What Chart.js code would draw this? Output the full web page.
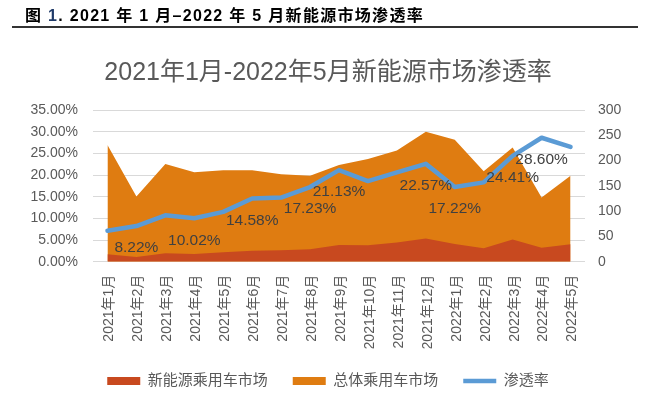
<!DOCTYPE html>
<html>
<head>
<meta charset="utf-8">
<script src="https://cdn.jsdelivr.net/npm/chart.js@4"></script>
<style>
  html, body { margin: 0; padding: 0; background: #fff; }
  #wrap { position: relative; width: 670px; height: 414px; overflow: hidden; }
  #hdr { position: absolute; left: 25px; top: 2px; font: bold 16px "Liberation Sans", "Noto Sans CJK SC", sans-serif; letter-spacing: 1.3px; color: #000; white-space: nowrap; }
  #hdr .n { color: #1F3A68; }
  #rule { position: absolute; left: 12px; top: 26px; width: 626px; height: 2px; background: #333; }
  canvas { position: absolute; left: 0; top: 0; }
</style>
</head>
<body>
<div id="wrap">
  <canvas id="c" width="670" height="414"></canvas>
  <div id="hdr">图 <span class="n">1</span>. 2021 年 1 月–2022 年 5 月新能源市场渗透率</div>
  <div id="rule"></div>
</div>
<script>
const categories = ['2021年1月','2021年2月','2021年3月','2021年4月','2021年5月','2021年6月','2021年7月','2021年8月','2021年9月','2021年10月','2021年11月','2021年12月','2022年1月','2022年2月','2022年3月','2022年4月','2022年5月'];
const nevMarket = [14.6, 9.3, 16.6, 15.2, 18.6, 21.8, 22.5, 24.5, 33, 32.4, 38, 46, 35, 26.5, 44, 27.7, 34.4];
const totalMarket = [231, 129, 193, 177, 181, 181, 173, 170, 191, 203, 220, 257, 241, 179, 226, 127, 170];
const penetration = [7.15, 8.22, 10.7, 10.02, 11.5, 14.58, 14.8, 17.23, 21.13, 18.6, 20.6, 22.57, 17.22, 18.3, 24.41, 28.60, 26.5];
const labeledIdx = [1, 3, 5, 7, 8, 11, 12, 14, 15];
const leftTicks = [0, 5, 10, 15, 20, 25, 30, 35];
const rightTicks = [0, 50, 100, 150, 200, 250, 300];

const FONT = '"Liberation Sans", "Noto Sans CJK SC", sans-serif';
const GRAY = '#595959';

const dataLabels = {
  id: 'dataLabels',
  afterDatasetsDraw(chart) {
    const meta = chart.getDatasetMeta(2);
    const ctx = chart.ctx;
    ctx.save();
    ctx.font = '15.5px ' + FONT;
    ctx.fillStyle = '#404040';
    ctx.textAlign = 'center';
    ctx.textBaseline = 'middle';
    labeledIdx.forEach(i => {
      const p = meta.data[i];
      ctx.fillText(penetration[i].toFixed(2) + '%', p.x, p.y + 22);
    });
    ctx.restore();
  }
};

new Chart(document.getElementById('c'), {
  type: 'line',
  data: {
    labels: categories,
    datasets: [
      { label: '新能源乘用车市场', data: nevMarket, yAxisID: 'y1', fill: 'origin',
        backgroundColor: '#C8491F', borderColor: '#C8491F', borderWidth: 0,
        pointRadius: 0, pointStyle: 'rect', tension: 0, order: 1 },
      { label: '总体乘用车市场', data: totalMarket, yAxisID: 'y1', fill: 'origin',
        backgroundColor: '#DF7C11', borderColor: '#DF7C11', borderWidth: 0,
        pointRadius: 0, pointStyle: 'rect', tension: 0, order: 2 },
      { label: '渗透率', data: penetration, yAxisID: 'y', fill: false,
        borderColor: '#5B9BD5', backgroundColor: '#5B9BD5', borderWidth: 4.5,
        borderCapStyle: 'round', borderJoinStyle: 'round',
        pointRadius: 0, pointStyle: 'line', tension: 0, order: 0 }
    ]
  },
  options: {
    responsive: false,
    animation: false,
    layout: { padding: { left: 0, right: 14, top: 0, bottom: 15.5 } },
    scales: {
      x: {
        offset: true,
        grid: { display: false, drawTicks: false },
        border: { display: false },
        ticks: { minRotation: 90, maxRotation: 90, autoSkip: false, padding: 13, labelOffset: 2,
                 color: GRAY, font: { size: 14, family: FONT } },
        afterFit(s) { s.height = 86.8; }
      },
      y: {
        position: 'left', min: 0, max: 35,
        afterBuildTicks(s) { s.ticks = leftTicks.map(v => ({ value: v })); },
        grid: { color: '#D9D9D9', lineWidth: 1, drawTicks: false },
        border: { display: false },
        ticks: { padding: 15, color: GRAY, font: { size: 14, family: FONT },
                 callback: v => v.toFixed(2) + '%' },
        afterFit(s) { s.width = 93; }
      },
      y1: {
        position: 'right', min: 0, max: 300,
        afterBuildTicks(s) { s.ticks = rightTicks.map(v => ({ value: v })); },
        grid: { display: false, drawTicks: false },
        border: { display: false },
        ticks: { padding: 13, color: GRAY, font: { size: 14, family: FONT } },
        afterFit(s) { s.width = 71; }
      }
    },
    plugins: {
      title: { display: true, text: '2021年1月-2022年5月新能源市场渗透率', color: GRAY,
               font: { size: 25, family: FONT, weight: 'normal' }, padding: { top: 58, bottom: 22 } },
      legend: {
        position: 'bottom',
        labels: { usePointStyle: true, pointStyleWidth: 33, boxHeight: 8, padding: 25,
                  color: GRAY, font: { size: 15, family: FONT },
                  sort: (a, b) => a.datasetIndex - b.datasetIndex }
      },
      tooltip: { enabled: false }
    }
  },
  plugins: [dataLabels]
});
</script>
</body>
</html>
